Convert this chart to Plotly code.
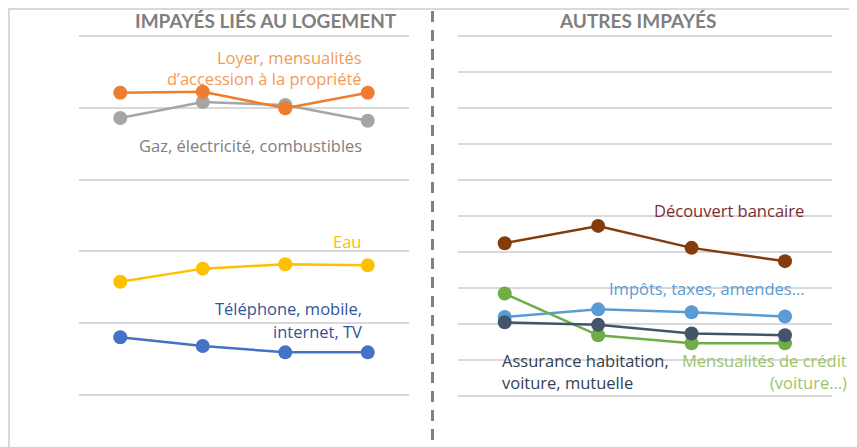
import plotly.graph_objects as go

W, H = 857, 447
OFF = 8  # page offset of the figure in the browser window

periods = ["P1", "P2", "P3", "P4"]

# Left panel: housing-related arrears
loyer = [21.05, 21.12, 19.97, 21.05]
gaz = [19.29, 20.40, 20.19, 19.10]
eau = [7.89, 8.80, 9.10, 9.03]
telephone = [4.02, 3.41, 2.97, 2.97]

# Right panel: other arrears
decouvert = [4.24, 4.72, 4.11, 3.74]
impots = [2.19, 2.40, 2.32, 2.20]
assurance = [2.04, 1.97, 1.73, 1.68]
credit = [2.84, 1.68, 1.46, 1.46]

FONT = "Open Sans"
TFONT = "Lato"

def px(x):
    return (x - OFF) / W

def py(y):
    return 1 - (y - OFF) / H

fig = go.Figure()

def add_series(vals, color, xa, ya):
    fig.add_trace(go.Scatter(
        x=periods, y=vals, mode="lines+markers", xaxis=xa, yaxis=ya,
        line=dict(color=color, width=2.5),
        marker=dict(color=color, size=14),
        showlegend=False, hoverinfo="skip"))

add_series(gaz, "#A5A5A5", "x", "y")
add_series(loyer, "#ED7D31", "x", "y")
add_series(eau, "#FFC000", "x", "y")
add_series(telephone, "#4472C4", "x", "y")

add_series(decouvert, "#843C0C", "x2", "y2")
add_series(impots, "#5B9BD5", "x2", "y2")
add_series(credit, "#70AD47", "x2", "y2")
add_series(assurance, "#44546A", "x2", "y2")

# left axis: 0..25 spans screen y 395 -> 36 ; right: 0..10 spans 395.7 -> 36
ppu1 = (395.0 - 36.0) / 25
ppu2 = (395.7 - 36.0) / 10
ydom1 = [py(395.0 + ppu1), py(36.0 - ppu1)]
ydom2 = [py(395.7 + 0.5 * ppu2), py(36.0 - 0.5 * ppu2)]

grid = dict(showgrid=True, gridcolor="#D9D9D9", gridwidth=1.5, zeroline=False,
            showticklabels=False, ticks="", showline=False)
xcommon = dict(showgrid=False, zeroline=False, showticklabels=False, ticks="",
               showline=False, range=[-0.5, 3.5], type="category")

fig.update_layout(
    width=W, height=H,
    margin=dict(l=0, r=0, t=0, b=0),
    paper_bgcolor="white", plot_bgcolor="rgba(0,0,0,0)",
    font=dict(family=FONT, size=16.5),
    xaxis=dict(domain=[px(79), px(409)], **xcommon),
    xaxis2=dict(domain=[px(458), px(831.7)], anchor="y2", **xcommon),
    yaxis=dict(domain=ydom1, range=[-1, 26], tick0=0, dtick=5, **grid),
    yaxis2=dict(domain=ydom2, range=[-0.5, 10.5], tick0=0, dtick=1, anchor="x2", **grid),
)

# Frame (top & left edges visible) and dashed separator
fig.add_shape(type="rect", xref="paper", yref="paper",
              x0=1.0 / W, x1=1.2, y0=-0.2, y1=1 - 1.0 / H,
              line=dict(color="#D9D9D9", width=2), layer="below")
fig.add_shape(type="line", xref="paper", yref="paper",
              x0=px(432.5), x1=px(432.5), y0=py(11), y1=-0.05,
              line=dict(color="#808080", width=3, dash="11px,8px"))

def label(text, x, y, color, anchor="right", size=16.5, bold=False, family=FONT):
    fig.add_annotation(
        text=f"<b>{text}</b>" if bold else text,
        xref="paper", yref="paper", x=px(x), y=py(y),
        xanchor=anchor, yanchor="middle", showarrow=False,
        font=dict(family=family, size=size, color=color))

label("IMPAYÉS LIÉS AU LOGEMENT", 266, 20.5, "#7F7F7F", anchor="center", size=19, bold=True, family=TFONT)
label("AUTRES IMPAYÉS", 637.7, 20.5, "#7F7F7F", anchor="center", size=19, bold=True, family=TFONT)

label("Loyer, mensualités", 363.5, 57.3, "#F39A55")
label("d’accession à la propriété", 363.5, 79, "#F39A55")
label("Gaz, électricité, combustibles", 363.5, 145.7, "#808080")
label("Eau", 362.5, 241, "#FFC000")
label("Téléphone, mobile,", 363.5, 308.3, "#2F5597")
label("internet, TV", 363.5, 331, "#2F5597")

label("Découvert bancaire", 806.3, 210.7, "#7B2E2E")
label("Impôts, taxes, amendes…", 806.3, 288.3, "#5B9BD5")
label("Assurance habitation,", 499.7, 360, "#333F50", anchor="left")
label("voiture, mutuelle", 499.7, 382.3, "#333F50", anchor="left")
label("Mensualités de crédit", 849, 360, "#9BC36B")
label("(voiture…)", 849, 382.3, "#9BC36B")

fig.write_html("out.html")
